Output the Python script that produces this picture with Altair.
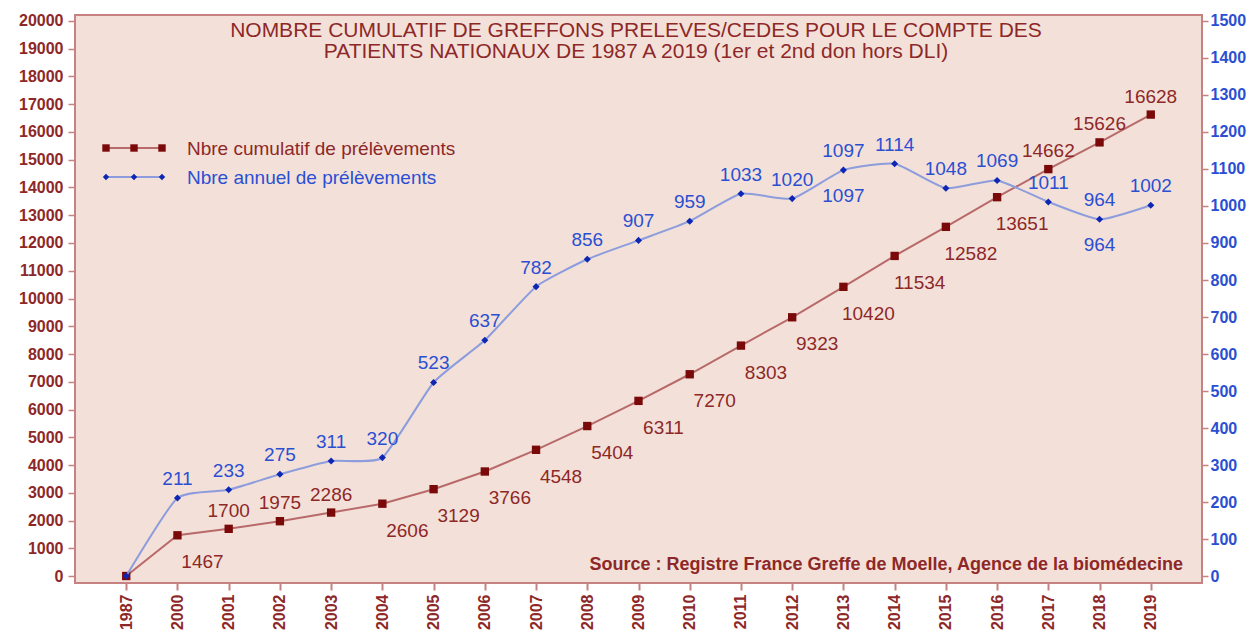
import altair as alt
import pandas as pd

# ---------------- data ----------------
years = ["1987", "2000", "2001", "2002", "2003", "2004", "2005", "2006", "2007", "2008",
         "2009", "2010", "2011", "2012", "2013", "2014", "2015", "2016", "2017", "2018", "2019"]
cumul = [0, 1467, 1700, 1975, 2286, 2606, 3129, 3766, 4548, 5404,
         6311, 7270, 8303, 9323, 10420, 11534, 12582, 13651, 14662, 15626, 16628]
annual = [0, 211, 233, 275, 311, 320, 523, 637, 782, 856,
          907, 959, 1033, 1020, 1097, 1114, 1048, 1069, 1011, 964, 1002]
cumul_label_pos = ["none", "below", "above", "above", "above", "below", "below", "below", "below", "below",
                   "below", "below", "below", "below", "below", "below", "below", "below", "above", "above", "above"]
annual_label_pos = ["none"] + ["above"] * 20
annual_extra_below = ["2013", "2018"]

left_ticks = list(range(0, 20001, 1000))
right_ticks = list(range(0, 1501, 100))

title_lines = ["NOMBRE CUMULATIF DE GREFFONS PRELEVES/CEDES POUR LE COMPTE DES",
               "PATIENTS NATIONAUX DE 1987 A 2019 (1er et 2nd don hors DLI)"]
legend_labels = ["Nbre cumulatif de prélèvements", "Nbre annuel de prélèvements"]
source_text = "Source : Registre France Greffe de Moelle, Agence de la biomédecine"

# ---------------- styles ----------------
FONT = "Liberation Sans"
BG = "#f3e1d9"
FRAME = "#c68282"
RED_LINE = "#b86a6a"
RED_MARK = "#7a0a0a"
RED_TEXT = "#8e2828"
BLUE_LINE = "#8c9cdc"
BLUE_MARK = "#0d26b4"
BLUE_TEXT = "#2b4fd2"

df = pd.DataFrame({"year": years, "cumul": cumul, "annual": annual,
                   "cpos": cumul_label_pos, "apos": annual_label_pos})
df["alab"] = df["annual"].astype(str)
df["clab"] = df["cumul"].astype(str)
df["extra"] = df["year"].isin(annual_extra_below)

W, H = 1127, 568

x_enc = alt.X("year:O", sort=years,
              scale=alt.Scale(type="point", padding=1.04),
              axis=alt.Axis(title=None, labelAngle=270, labelFont=FONT, labelFontSize=16,
                            labelFontWeight="bold", labelColor=RED_TEXT, tickColor=FRAME,
                            tickSize=7, tickWidth=2, labelPadding=4, domain=False, grid=False))

y_left = alt.Y("cumul:Q", scale=alt.Scale(domain=[-252, 20216], nice=False, zero=False),
               axis=alt.Axis(title=None, orient="left", values=left_ticks, format="d", labelFont=FONT,
                             labelFontSize=16, labelFontWeight="bold", labelColor=RED_TEXT,
                             tickColor=FRAME, tickSize=7, tickWidth=1.5, labelPadding=5,
                             domain=False, grid=False))
y_right = alt.Y("annual:Q", scale=alt.Scale(domain=[-18.9, 1516.2], nice=False, zero=False),
                axis=alt.Axis(title=None, orient="right", values=right_ticks, format="d", labelFont=FONT,
                              labelFontSize=16, labelFontWeight="bold", labelColor=BLUE_TEXT,
                              tickColor=FRAME, tickSize=6, tickWidth=1.5, labelPadding=2,
                              domain=False, grid=False))

base = alt.Chart(df)

red_line = base.mark_line(color=RED_LINE, strokeWidth=2).encode(x=x_enc, y=y_left)
red_pts = base.mark_point(shape="square", filled=True, size=70, color=RED_MARK, opacity=1).encode(x=x_enc, y=y_left)
red_above = base.transform_filter(alt.datum.cpos == "above").mark_text(
    font=FONT, fontSize=19, color=RED_TEXT, dy=-18).encode(x=x_enc, y=y_left, text="clab:N")
red_below = base.transform_filter(alt.datum.cpos == "below").mark_text(
    font=FONT, fontSize=19, color=RED_TEXT, dx=25, dy=27).encode(x=x_enc, y=y_left, text="clab:N")
red_group = alt.layer(red_line, red_pts, red_above, red_below)

blue_line = base.mark_line(color=BLUE_LINE, strokeWidth=2, interpolate="cardinal", tension=0.5).encode(x=x_enc, y=y_right)
blue_pts = base.mark_point(shape="diamond", filled=True, size=50, color=BLUE_MARK, opacity=1).encode(x=x_enc, y=y_right)
blue_above = base.transform_filter(alt.datum.apos == "above").mark_text(
    font=FONT, fontSize=19, color=BLUE_TEXT, dy=-19).encode(x=x_enc, y=y_right, text="alab:N")
blue_below = base.transform_filter(alt.datum.extra).mark_text(
    font=FONT, fontSize=19, color=BLUE_TEXT, dy=26).encode(x=x_enc, y=y_right, text="alab:N")
blue_group = alt.layer(blue_line, blue_pts, blue_above, blue_below)

# ---------------- decorations ----------------
tdf = pd.DataFrame({"t": title_lines})
title1 = alt.Chart(tdf.iloc[[0]]).mark_text(font=FONT, fontSize=21, color=RED_TEXT, align="center",
                                             baseline="middle").encode(
    x=alt.value(561), y=alt.value(16), text="t:N")
title2 = alt.Chart(tdf.iloc[[1]]).mark_text(font=FONT, fontSize=21, color=RED_TEXT, align="center",
                                             baseline="middle").encode(
    x=alt.value(561), y=alt.value(37), text="t:N")

ldf = pd.DataFrame({"t": legend_labels})
leg_items = []
for i, (lc, mc, tc, shp, sz) in enumerate([(RED_LINE, RED_MARK, RED_TEXT, "square", 55),
                                           (BLUE_LINE, BLUE_MARK, BLUE_TEXT, "diamond", 40)]):
    yy = 133 + 29 * i
    row = alt.Chart(ldf.iloc[[i]])
    leg_items.append(row.mark_rule(color=lc, strokeWidth=2).encode(
        x=alt.value(31), x2=alt.value(87), y=alt.value(yy)))
    for xx in (31, 59, 87):
        leg_items.append(row.mark_point(shape=shp, filled=True, size=sz, color=mc, opacity=1).encode(
            x=alt.value(xx), y=alt.value(yy)))
    leg_items.append(row.mark_text(font=FONT, fontSize=19, color=tc, align="left",
                                   baseline="middle").encode(
        x=alt.value(112), y=alt.value(yy + 1), text="t:N"))

sdf = pd.DataFrame({"t": [source_text]})
source = alt.Chart(sdf).mark_text(font=FONT, fontSize=18, fontWeight="bold", color=RED_TEXT,
                                  align="right", baseline="middle").encode(
    x=alt.value(1108), y=alt.value(550), text="t:N")

chart = alt.layer(red_group, blue_group, title1, title2, *leg_items, source).resolve_scale(
    y="independent"
).properties(
    width=W, height=H,
    padding={"left": 67, "top": 7, "right": 45, "bottom": 49},
    autosize=alt.AutoSizeParams(type="none"),
    background="white",
).configure_view(
    fill=BG, stroke=FRAME, strokeWidth=2
)

chart.save("out.html", embed_options={"renderer": "svg", "actions": False})
